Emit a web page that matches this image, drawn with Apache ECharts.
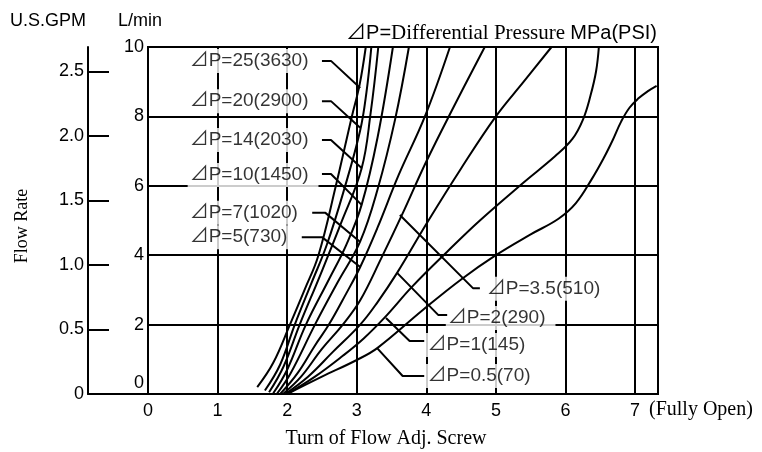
<!DOCTYPE html>
<html><head><meta charset="utf-8">
<script src="https://cdn.jsdelivr.net/npm/echarts@6/dist/echarts.min.js"></script>
<style>html,body{margin:0;padding:0;background:#fff}#c{width:762px;height:452px}</style>
</head><body><div id="c"></div>
<script>
// ---- tick labels ----
const xTicks = [0, 1, 2, 3, 4, 5, 6, 7];
const lpmTicks = [0, 2, 4, 6, 8, 10];
const gpmTicks = [0, 0.5, 1, 1.5, 2, 2.5];
const gpmTickLabels = ['0', '0.5', '1.0', '1.5', '2.0', '2.5'];

// ---- curves: [turn, L/min] ----
const dp25 = [[1.57,0.2],[1.8,0.9],[2.04,2.0],[2.25,3.0],[2.45,4.0],[2.7,6.0],[2.93,8.0],[3.04,8.9],[3.13,10]];
const dp20 = [[1.68,0.1],[1.9,0.85],[2.11,2.0],[2.35,3.2],[2.57,4.3],[2.82,5.9],[3.05,7.6],[3.14,8.7],[3.21,10]];
const dp14 = [[1.74,0.05],[1.95,0.8],[2.18,2.0],[2.47,3.4],[2.77,4.9],[3.07,6.5],[3.2,8.1],[3.31,10]];
const dp10 = [[1.8,0.02],[2.0,0.7],[2.27,2.0],[2.6,3.3],[2.85,4.3],[3.07,5.45],[3.3,7.4],[3.52,10]];
const dp7  = [[1.85,0],[2.05,0.6],[2.4,2.0],[2.72,3.2],[3.05,4.4],[3.3,5.9],[3.55,7.9],[3.75,10]];
const dp5  = [[1.9,0],[2.15,0.6],[2.4,1.4],[2.6,2.0],[2.85,2.9],[3.05,3.66],[3.3,4.8],[3.6,6.3],[3.98,8.0],[4.34,10]];
const dp3_5 = [[1.94,0],[2.2,0.5],[2.5,1.3],[2.8,2.0],[3.05,2.7],[3.35,3.9],[3.65,5.16],[4.0,6.7],[4.4,8.3],[4.84,10]];
const dp2  = [[1.97,0],[2.3,0.5],[2.65,1.2],[3.05,2.0],[3.3,2.65],[3.58,3.49],[4.0,4.9],[4.5,6.5],[5.0,8.0],[5.4,9.0],[5.8,10]];
const dp1  = [[2.0,0],[2.4,0.5],[2.8,1.1],[3.1,1.6],[3.4,2.2],[3.8,3.1],[4.3,4.1],[4.77,5.0],[5.39,6.08],[5.85,6.85],[6.1,7.35],[6.25,7.9],[6.36,8.6],[6.44,9.3],[6.48,10]];
const dp0_5 = [[2.0,0],[2.5,0.5],[3.0,0.98],[3.3,1.33],[3.95,2.42],[4.5,3.3],[5.0,4.0],[5.5,4.6],[5.9,5.05],[6.15,5.5],[6.38,6.2],[6.55,6.8],[6.68,7.32],[6.8,7.85],[6.92,8.25],[7.05,8.52],[7.18,8.72],[7.31,8.88]];
const curves = [dp25, dp20, dp14, dp10, dp7, dp5, dp3_5, dp2, dp1, dp0_5];

// ---- curve labels and their leader lines ----
const labelTexts = ['⊿P=25(3630)','⊿P=20(2900)','⊿P=14(2030)','⊿P=10(1450)','⊿P=7(1020)','⊿P=5(730)','⊿P=3.5(510)','⊿P=2(290)','⊿P=1(145)','⊿P=0.5(70)'];
const labelAnchors = [[0.57,9.60],[0.57,8.44],[0.57,7.32],[0.57,6.31],[0.57,5.22],[0.57,4.52],[4.84,3.03],[4.28,2.19],[3.99,1.41],[3.99,0.52]];
const leader25 = [[2.50,9.60],[2.63,9.60],[3.05,8.82]];
const leader20 = [[2.50,8.44],[2.63,8.44],[3.05,7.67]];
const leader14 = [[2.50,7.32],[2.63,7.32],[3.07,6.51]];
const leader10 = [[2.50,6.34],[2.63,6.34],[3.07,5.45]];
const leader7  = [[2.36,5.22],[2.55,5.22],[3.05,4.38]];
const leader5  = [[2.21,4.52],[2.50,4.52],[3.05,3.66]];
const leader3_5 = [[4.77,3.05],[4.67,3.05],[3.62,5.16]];
const leader2  = [[4.30,2.28],[4.17,2.28],[3.58,3.49]];
const leader1  = [[3.97,1.53],[3.76,1.53],[3.42,2.19]];
const leader0_5 = [[3.97,0.52],[3.66,0.52],[3.29,1.33]];
const leaders = [leader25, leader20, leader14, leader10, leader7, leader5, leader3_5, leader2, leader1, leader0_5];

const SANS = '"Liberation Sans", "Noto Sans CJK JP", sans-serif';
const SERIF = '"Liberation Serif", serif';

const series = [];
curves.forEach(c => series.push({
  type: 'line', xAxisIndex: 0, yAxisIndex: 0, data: c, showSymbol: false,
  smooth: 0.4, lineStyle: {color: '#000', width: 2}, z: 4, silent: true
}));
leaders.forEach(l => series.push({
  type: 'line', xAxisIndex: 0, yAxisIndex: 0, data: l, showSymbol: false,
  lineStyle: {color: '#000', width: 2}, z: 5, silent: true
}));
series.push({
  type: 'scatter', xAxisIndex: 0, yAxisIndex: 0, symbolSize: 0, z: 3, silent: true,
  data: labelAnchors.map((p, i) => ({value: p, name: labelTexts[i]})),
  label: {
    show: true, position: 'right', distance: 0, formatter: p => p.name,
    fontFamily: SANS, fontSize: 19, color: '#000', backgroundColor: '#fff',
    lineHeight: 22, padding: [1, 10, 1, 2]
  }
});

const chart = echarts.init(document.getElementById('c'), null, {renderer: 'canvas'});
chart.setOption({
  animation: false,
  backgroundColor: '#fff',
  grid: [
    {left: 148, top: 47, width: 510, height: 347, show: true, borderColor: '#000', borderWidth: 2, backgroundColor: 'transparent'},
    {left: 88, top: 47, width: 570, height: 347}
  ],
  xAxis: [
    {gridIndex: 0, type: 'value', min: 0, max: 7.33, interval: 1,
     axisLine: {show: true, lineStyle: {color: '#000', width: 2}}, axisTick: {show: false},
     axisLabel: {customValues: xTicks, formatter: v => String(v), fontFamily: SANS, fontSize: 18, color: '#000', margin: 8},
     splitLine: {show: true, lineStyle: {color: '#000', width: 2}}},
    {gridIndex: 1, type: 'value', min: 0, max: 1,
     axisLine: {show: true, lineStyle: {color: '#000', width: 2}}, axisTick: {show: false},
     axisLabel: {show: false}, splitLine: {show: false}}
  ],
  yAxis: [
    {gridIndex: 0, type: 'value', min: 0, max: 10, interval: 2,
     axisLine: {show: true, lineStyle: {color: '#000', width: 2}}, axisTick: {show: false},
     axisLabel: {customValues: lpmTicks, formatter: v => v === 0 ? '{z|0}' : String(v), fontFamily: SANS, fontSize: 18, color: '#000', margin: 4,
       rich: {z: {fontFamily: SANS, fontSize: 18, color: '#000', padding: [0, 0, 22, 0]}}},
     splitLine: {show: true, lineStyle: {color: '#000', width: 2}}},
    {gridIndex: 1, type: 'value', position: 'left', min: 0, max: 2.69,
     axisLine: {show: true, lineStyle: {color: '#000', width: 2}},
     axisTick: {show: true, inside: true, length: 21, customValues: gpmTicks, lineStyle: {color: '#000', width: 2}},
     axisLabel: {customValues: gpmTicks, formatter: v => { const i = gpmTicks.indexOf(v); return i >= 0 ? gpmTickLabels[i] : ''; },
       fontFamily: SANS, fontSize: 18, color: '#000', margin: 4},
     splitLine: {show: false}}
  ],
  graphic: [
    {type: 'text', x: 10, y: 21, style: {text: 'U.S.GPM', font: '18px ' + SANS, fill: '#000', align: 'left', textAlign: 'left', verticalAlign: 'middle', textVerticalAlign: 'middle'}},
    {type: 'text', x: 118, y: 21, style: {text: 'L/min', font: '18px ' + SANS, fill: '#000', align: 'left', textAlign: 'left', verticalAlign: 'middle', textVerticalAlign: 'middle'}},
    {type: 'text', x: 657, y: 33, style: {
      text: '{a|⊿P=}{b|Differential Pressure }{a|MPa(PSI)}',
      rich: {a: {fontFamily: SANS, fontSize: 20, fill: '#000', color: '#000'}, b: {fontFamily: SERIF, fontSize: 21, fill: '#000', color: '#000'}},
      align: 'right', textAlign: 'right', verticalAlign: 'middle', textVerticalAlign: 'middle'}},
    {type: 'text', x: 22, y: 226, rotation: Math.PI / 2, style: {text: 'Flow Rate', font: '18px ' + SERIF, fill: '#000', align: 'center', textAlign: 'center', verticalAlign: 'middle', textVerticalAlign: 'middle'}},
    {type: 'text', x: 386, y: 439, style: {text: 'Turn of Flow Adj. Screw', font: '20px ' + SERIF, fill: '#000', align: 'center', textAlign: 'center', verticalAlign: 'middle', textVerticalAlign: 'middle'}},
    {type: 'text', x: 649, y: 410, style: {text: '(Fully Open)', font: '20px ' + SERIF, fill: '#000', align: 'left', textAlign: 'left', verticalAlign: 'middle', textVerticalAlign: 'middle'}}
  ],
  series: series
});
</script>
</body></html>
